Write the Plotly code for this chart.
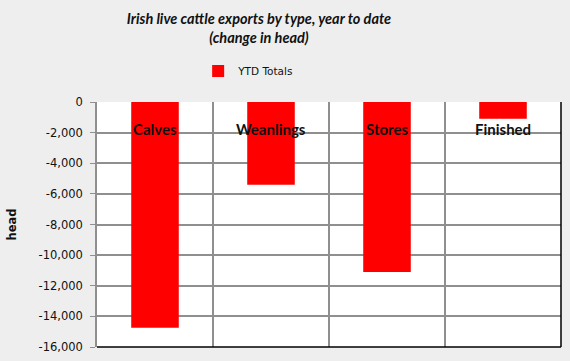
import plotly.graph_objects as go

categories = ["Calves", "Weanlings", "Stores", "Finished"]
ytd_totals = [-14750, -5400, -11100, -1100]
series_name = "YTD Totals"
y_ticks = [0, -2000, -4000, -6000, -8000, -10000, -12000, -14000, -16000]
y_tick_labels = ["0", "-2,000", "-4,000", "-6,000", "-8,000", "-10,000", "-12,000", "-14,000", "-16,000"]

fig = go.Figure()
fig.add_trace(go.Bar(
    x=categories, y=ytd_totals, name=series_name,
    marker=dict(color="#ff0000", line=dict(width=0)),
    width=0.41, showlegend=True,
))

fig.update_layout(
    width=570, height=361,
    margin=dict(l=97, r=9, t=102, b=14, autoexpand=False),
    paper_bgcolor="#eeeeee", plot_bgcolor="#ffffff",
    font=dict(family="Lato", color="#000000"),
    title=dict(
        text="<b><i>Irish live cattle exports by type, year to date<br>(change in head)</i></b>",
        x=259 / 570, xref="container", xanchor="center",
        y=(361 - 24) / 361, yref="container", yanchor="middle",
        font=dict(family="Lato", size=14.5, color="#111111"),
    ),
    legend=dict(
        orientation="h", x=0.218, xanchor="left",
        y=(361 - 71) / 361, yref="container", yanchor="middle",
        font=dict(family="DejaVu Sans", size=10.5, color="#111111"),
        bgcolor="rgba(0,0,0,0)", itemwidth=30,
    ),
    showlegend=True,
)

fig.update_xaxes(
    type="category", side="top", showticklabels=False,
    tickson="boundaries", showgrid=True, gridcolor="#8f8f8f", gridwidth=1.5,
    ticks="", showline=False, zeroline=False, fixedrange=True,
)

fig.update_yaxes(
    range=[-16000, 0], tickvals=y_ticks, ticktext=y_tick_labels,
    tickfont=dict(family="DejaVu Sans", size=11.5, color="#111111"),
    showgrid=True, gridcolor="#8f8f8f", gridwidth=1.5,
    zeroline=False, showline=True, linecolor="#8f8f8f", linewidth=1.5,
    ticks="outside", ticklen=5, tickcolor="#8f8f8f", ticklabelstandoff=5,
    title=dict(text="<b>head</b>", font=dict(family="DejaVu Sans", size=11.5, color="#111111"), standoff=20),
)

# category labels just below the zero line, inside the plot
for cat in categories:
    fig.add_annotation(
        x=cat, y=0, xref="x", yref="y", yanchor="middle", yshift=-27,
        text="<b>" + cat + "</b>", showarrow=False,
        font=dict(family="Lato", size=15, color="#111111"),
    )

# plot frame: dark bottom and right edges
fig.add_shape(type="line", xref="paper", yref="paper", x0=0, x1=1, y0=0, y1=0,
              line=dict(color="#000000", width=1.5))
fig.add_shape(type="line", xref="paper", yref="paper", x0=1, x1=1, y0=0, y1=1,
              line=dict(color="#000000", width=1.5))

fig.write_html("out.html", config={"displayModeBar": False},
               post_script="document.body.style.margin='0';document.body.style.overflow='hidden';")
